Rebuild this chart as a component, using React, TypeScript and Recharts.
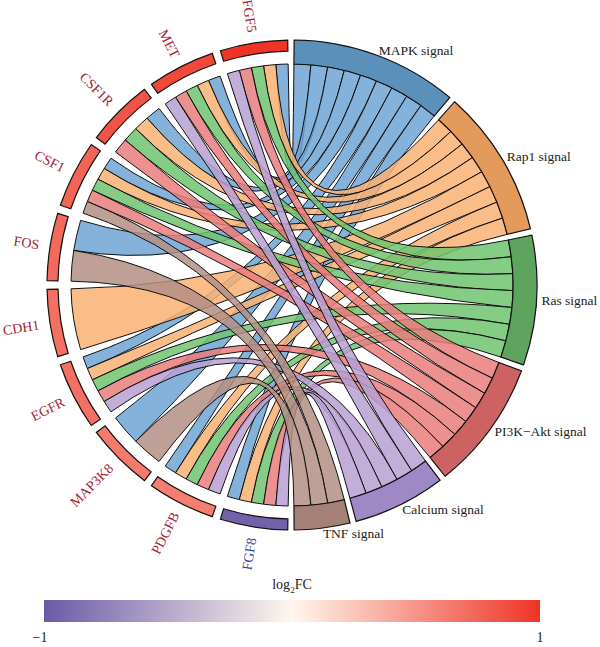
import React from 'react';
import { PieChart, Pie, Cell, Customized } from 'recharts';

// genes (left half, top -> bottom) and their log2 fold change
const genes = ['FGF5', 'MET', 'CSF1R', 'CSF1', 'FOS', 'CDH1', 'EGFR', 'MAP3K8', 'PDGFB', 'FGF8'];
const logFC = [1.0, 0.89, 0.84, 0.75, 0.72, 0.69, 0.69, 0.64, 0.62, -0.95];

// pathways (right half, clockwise from top)
const pathways = ['MAPK signal', 'Rap1 signal', 'Ras signal', 'PI3K\u2212Akt signal', 'Calcium signal', 'TNF signal'];
const mapkGenes = ['FGF5', 'MET', 'CSF1R', 'CSF1', 'FOS', 'EGFR', 'MAP3K8', 'PDGFB', 'FGF8'];
const rap1Genes = ['FGF5', 'MET', 'CSF1R', 'CSF1', 'CDH1', 'EGFR', 'PDGFB', 'FGF8'];
const rasGenes = ['FGF5', 'MET', 'CSF1R', 'CSF1', 'EGFR', 'PDGFB', 'FGF8'];
const pi3kGenes = ['FGF5', 'MET', 'CSF1R', 'CSF1', 'EGFR', 'PDGFB', 'FGF8'];
const calciumGenes = ['FGF5', 'MET', 'EGFR', 'PDGFB', 'FGF8'];
const tnfGenes = ['CSF1', 'FOS', 'MAP3K8'];
const members = [mapkGenes, rap1Genes, rasGenes, pi3kGenes, calciumGenes, tnfGenes];

const chordColors = ['#6fa5d4', '#f9b273', '#70c470', '#e97c7c', '#b9a0d4', '#b48f85'];
const arcColors = ['#5b90bb', '#e49a5a', '#5ea45e', '#cc6262', '#9f88c6', '#a48076'];

const fcTicks = [-1, 1];

const CX = 292;
const CY = 285;
const GENE_START = 91;
const GENE_END = 269;
const GENE_PAD = 2;
const PATH_START = 89.5;
const PATH_END = -89.5;
const PATH_PAD = 1.5;
const R_CHORD = 221;
const RAD = Math.PI / 180;

const geneData = genes.map((g, i) => ({ name: g, value: 1, fc: logFC[i] }));
const pathData = pathways.map((p, i) => ({ name: p, value: members[i].length }));

// same angle layout as recharts Pie
function sectorAngles(values: number[], start: number, end: number, pad: number) {
  const delta = end - start;
  const sign = Math.sign(delta);
  const total = values.reduce((a, b) => a + b, 0);
  const n = values.filter(v => v !== 0).length;
  const real = Math.abs(delta) - (Math.abs(delta) >= 360 ? n : n - 1) * pad;
  const out: [number, number][] = [];
  let prev = start;
  values.forEach((v, i) => {
    const s = i === 0 ? start : prev + sign * pad;
    const e = s + sign * (v / total) * real;
    out.push([s, e]);
    prev = e;
  });
  return out;
}

const pt = (a: number, r: number) => [CX + r * Math.cos(-a * RAD), CY + r * Math.sin(-a * RAD)];

const stops: [number, number[]][] = [
  [-1, [106, 90, 168]],
  [0, [255, 246, 236]],
  [1, [238, 52, 36]],
];
function fcColor(v: number) {
  const t = Math.max(-1, Math.min(1, v));
  const [a, b] = t < 0 ? [stops[0], stops[1]] : [stops[1], stops[2]];
  const f = (t - a[0]) / (b[0] - a[0]);
  const c = a[1].map((x, k) => Math.round(x + (b[1][k] - x) * f));
  return `rgb(${c[0]},${c[1]},${c[2]})`;
}

const ChordLayer = () => {
  const gAng = sectorAngles(geneData.map(d => d.value), GENE_START, GENE_END, GENE_PAD);
  const pAng = sectorAngles(pathData.map(d => d.value), PATH_START, PATH_END, PATH_PAD);
  const R = R_CHORD;
  const paths: React.ReactNode[] = [];
  pathways.forEach((_, pi) => {
    const [ps, pe] = pAng[pi];
    const pw = (ps - pe) / members[pi].length;
    members[pi].forEach((g, j) => {
      const gi = genes.indexOf(g);
      const gp = members.map((m, k) => (m.includes(g) ? k : -1)).filter(k => k >= 0);
      const k = gp.indexOf(pi);
      const [gs, ge] = gAng[gi];
      const gw = (ge - gs) / gp.length;
      const g0 = gs + k * gw;
      const g1 = g0 + gw;
      const phi = ps - j * pw;
      const plo = phi - pw;
      const a = pt(g0, R), b = pt(g1, R), c = pt(plo, R), d = pt(phi, R);
      const dStr = `M${a[0]},${a[1]} A${R},${R} 0 0 0 ${b[0]},${b[1]} Q${CX},${CY} ${c[0]},${c[1]} A${R},${R} 0 0 0 ${d[0]},${d[1]} Q${CX},${CY} ${a[0]},${a[1]} Z`;
      paths.push(
        <path key={`${pi}-${j}`} d={dStr} fill={chordColors[pi]} fillOpacity={0.85} stroke="#111" strokeWidth={1} />
      );
    });
  });
  const gradStops = [-1, -0.75, -0.5, -0.25, 0, 0.25, 0.5, 0.75, 1];
  return (
    <g>
      {paths}
      <defs>
        <linearGradient id="fcgrad" x1="0" x2="1" y1="0" y2="0">
          {gradStops.map(v => (
            <stop key={v} offset={`${((v + 1) / 2) * 100}%`} stopColor={fcColor(v)} />
          ))}
        </linearGradient>
      </defs>
      <rect x={44} y={600} width={496} height={22} fill="url(#fcgrad)" />
      <text x={292} y={589} textAnchor="middle" fontFamily="Liberation Serif" fontSize={14} fill="#222">
        log<tspan dy={4} fontSize={9}>2</tspan><tspan dy={-4}>FC</tspan>
      </text>
      {fcTicks.map((v, i) => (
        <text key={v} x={i === 0 ? 40 : 540} y={642} textAnchor="middle" fontFamily="Liberation Serif" fontSize={14} fill="#222">
          {v < 0 ? `\u2212${Math.abs(v)}` : v}
        </text>
      ))}
    </g>
  );
};

const geneLabel = (props: any) => {
  const { midAngle, index } = props;
  const cx = props.cx ?? CX;
  const cy = props.cy ?? CY;
  const [x, y] = [cx + 256 * Math.cos(-midAngle * RAD), cy + 256 * Math.sin(-midAngle * RAD)];
  const rot = Math.atan2(Math.sin(midAngle * RAD), -Math.cos(midAngle * RAD)) / RAD;
  return (
    <text x={x} y={y} textAnchor="end" dominantBaseline="central" transform={`rotate(${rot},${x},${y})`}
      fontFamily="Liberation Serif" fontSize={14} fill={logFC[index] < 0 ? '#3d3d9a' : '#a3222e'}>
      {genes[index]}
    </text>
  );
};

const pathLabel = (props: any) => {
  const { midAngle, index } = props;
  const cx = props.cx ?? CX;
  const cy = props.cy ?? CY;
  const x = cx + 250 * Math.cos(-midAngle * RAD);
  const y = cy + 250 * Math.sin(-midAngle * RAD);
  return (
    <text x={x} y={y} textAnchor="start" dominantBaseline="central" fontFamily="Liberation Serif" fontSize={13.5} fill="#222">
      {pathways[index]}
    </text>
  );
};

export default function App() {
  return (
    <div style={{ position: 'absolute', left: 0, top: 0, width: 600, height: 647, background: '#fff' }}>
      <PieChart width={600} height={647} margin={{ top: 0, right: 0, bottom: 0, left: 0 }}>
        <Customized component={ChordLayer} />
        <Pie data={geneData} dataKey="value" cx={CX} cy={CY} startAngle={GENE_START} endAngle={GENE_END}
          paddingAngle={GENE_PAD} innerRadius={234} outerRadius={245} label={geneLabel} labelLine={false}
          isAnimationActive={false}>
          {geneData.map((d, i) => (
            <Cell key={i} fill={fcColor(d.fc)} stroke="#111" strokeWidth={1.2} />
          ))}
        </Pie>
        <Pie data={pathData} dataKey="value" cx={CX} cy={CY} startAngle={PATH_START} endAngle={PATH_END}
          paddingAngle={PATH_PAD} innerRadius={R_CHORD} outerRadius={245} label={pathLabel} labelLine={false}
          isAnimationActive={false}>
          {pathData.map((d, i) => (
            <Cell key={i} fill={arcColors[i]} stroke="#111" strokeWidth={1.2} />
          ))}
        </Pie>
      </PieChart>
    </div>
  );
}
